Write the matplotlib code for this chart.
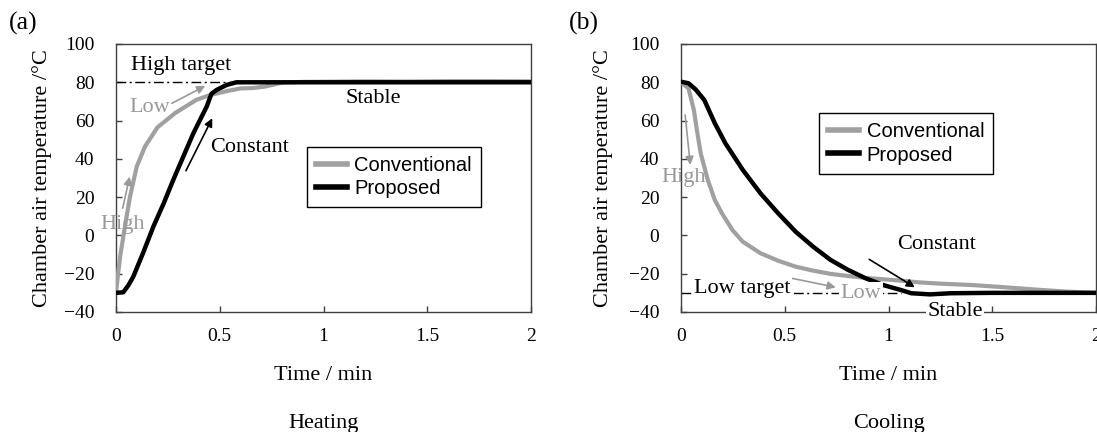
import matplotlib
matplotlib.use("Agg")
import matplotlib.pyplot as plt

# ---------------- data ----------------
heat_t_conv = [0, 0.01, 0.02, 0.043, 0.067, 0.1, 0.14, 0.2, 0.286, 0.387, 0.455, 0.54,
               0.6, 0.66, 0.72, 0.8, 0.9, 1.0, 1.2, 1.4, 1.6, 1.8, 2.0]
heat_conv = [-30, -20, -11, 4.6, 20, 36, 46.5, 56.5, 64, 70.8, 73.4, 75.5,
             76.8, 77.0, 77.8, 79.8, 80.2, 80.3, 80.5, 80.4, 80.6, 80.6, 80.5]

heat_t_prop = [0, 0.035, 0.06, 0.083, 0.13, 0.18, 0.23, 0.276, 0.324, 0.373, 0.437,
               0.46, 0.485, 0.533, 0.58, 0.7, 1.0, 1.5, 2.0]
heat_prop = [-30, -29.7, -26, -21.6, -9.3, 4.6, 16.8, 29, 41.1, 53.4, 67.3,
             74, 76, 78.6, 80, 80, 80, 80, 80]

cool_t_conv = [0, 0.036, 0.062, 0.079, 0.095, 0.129, 0.163, 0.197, 0.248, 0.298, 0.383,
               0.468, 0.552, 0.637, 0.721, 0.805, 0.89, 0.974, 1.059, 1.144, 1.25, 1.4,
               1.55, 1.7, 1.85, 2.0]
cool_conv = [80, 76.9, 65.5, 53.4, 42.9, 29, 18.5, 11.6, 2.8, -3.3, -9.3,
             -13.2, -16.3, -18.4, -20.1, -21.2, -22.2, -22.9, -23.6, -24.5, -25.2, -25.9,
             -27.0, -28.2, -29.3, -30]

cool_t_prop = [0, 0.036, 0.07, 0.112, 0.163, 0.214, 0.298, 0.383, 0.468, 0.552, 0.637,
               0.721, 0.805, 0.89, 0.974, 1.059, 1.11, 1.2, 1.3, 1.5, 2.0]
cool_prop = [80.3, 79.5, 76.3, 70.8, 58.6, 48.1, 34.2, 22, 11.6, 2, -5.9,
             -12.8, -18, -22.4, -25.9, -28.5, -30.2, -30.8, -30.2, -30, -30]

high_target = 80
low_target = -30
series_labels = ["Conventional", "Proposed"]
x_ticks = [0, 0.5, 1, 1.5, 2]
x_tick_labels = ["0", "0.5", "1", "1.5", "2"]
y_ticks = [-40, -20, 0, 20, 40, 60, 80, 100]
y_tick_labels = ["\u221240", "\u221220", "0", "20", "40", "60", "80", "100"]

# ---------------- style ----------------
SERIF = ["Liberation Serif", "DejaVu Serif"]
SANS = ["Liberation Sans", "DejaVu Sans"]
plt.rcParams["font.family"] = SERIF
GRAY = "#a0a0a0"
TGRAY = "#999999"
SPINE = "#404040"
TICK_FS = 14
LAB_FS = 16
ANN_FS = 16

fig = plt.figure(figsize=(10.97, 4.32), dpi=100)
axL = fig.add_axes([116 / 1097, 120 / 432, 415 / 1097, 268 / 432])
axR = fig.add_axes([681 / 1097, 120 / 432, 415 / 1097, 268 / 432])


def style_axes(ax, ylab_x):
    ax.set_xlim(0, 2)
    ax.set_ylim(-40, 100)
    ax.set_xticks(x_ticks)
    ax.set_xticklabels(x_tick_labels)
    ax.set_yticks(y_ticks)
    ax.set_yticklabels(y_tick_labels)
    for s in ax.spines.values():
        s.set_color(SPINE)
        s.set_linewidth(1.0)
    ax.tick_params(axis="both", direction="in", length=4, width=1, color=SPINE,
                   labelsize=TICK_FS)
    ax.tick_params(axis="y", pad=15.5)
    ax.tick_params(axis="x", pad=11.5)
    ax.set_xlabel("Time / min", fontsize=LAB_FS)
    ax.set_ylabel("Chamber air temperature /\u00b0C", fontsize=LAB_FS)
    ax.yaxis.set_label_coords(ylab_x, 0.5)
    ax.xaxis.set_label_coords(0.5, -0.2)


style_axes(axL, -0.154)
style_axes(axR, -0.164)

dashdot = (0, (7, 2.5, 1.5, 2.5))

# ---- heating ----
axL.plot([0, 0.56], [high_target, high_target], color="black", lw=1.0,
         linestyle=dashdot, zorder=2)
axL.plot(heat_t_conv, heat_conv, color=GRAY, lw=3.0, label=series_labels[0], zorder=3,
         solid_joinstyle="round")
axL.plot(heat_t_prop, heat_prop, color="black", lw=3.2, label=series_labels[1], zorder=4,
         solid_joinstyle="round")

arrow_g = dict(arrowstyle="-|>", color=TGRAY, lw=1.2, mutation_scale=12,
               shrinkA=0, shrinkB=0)
arrow_k = dict(arrowstyle="-|>", color="black", lw=1.2, mutation_scale=12,
               shrinkA=0, shrinkB=0)

axL.text(0.316, 88.7, "High target", fontsize=ANN_FS, ha="center", va="center")
axL.text(0.165, 67.0, "Low", fontsize=ANN_FS, ha="center", va="center", color=TGRAY)
axL.annotate("", xy=(0.43, 78.1), xytext=(0.269, 69), arrowprops=arrow_g)
axL.text(0.643, 45.8, "Constant", fontsize=ANN_FS, ha="center", va="center")
axL.annotate("", xy=(0.464, 61.2), xytext=(0.337, 33.8), arrowprops=arrow_k)
axL.text(0.033, 5.5, "High", fontsize=ANN_FS, ha="center", va="center", color=TGRAY)
axL.annotate("", xy=(0.066, 30.7), xytext=(0.032, 14.2), arrowprops=arrow_g)
axL.text(1.241, 71.3, "Stable", fontsize=ANN_FS, ha="center", va="center")

legL = axL.legend(loc="upper left", bbox_to_anchor=(0.46, 0.617),
                  prop={"family": SANS, "size": 14.5}, frameon=True, fancybox=False,
                  framealpha=1, edgecolor="black", borderpad=0.45, labelspacing=0.2,
                  handlelength=1.55, handletextpad=0.35, borderaxespad=0)
legL.get_frame().set_linewidth(1.0)
for ln in legL.get_lines():
    ln.set_linewidth(4)

# ---- cooling ----
axR.plot([0, 1.06], [low_target, low_target], color="black", lw=1.0,
         linestyle=dashdot, zorder=2)
axR.plot(cool_t_conv, cool_conv, color=GRAY, lw=3.0, label=series_labels[0], zorder=3,
         solid_joinstyle="round")
axR.plot(cool_t_prop, cool_prop, color="black", lw=3.2, label=series_labels[1], zorder=4,
         solid_joinstyle="round")

axR.text(0.014, 30.5, "High", fontsize=ANN_FS, ha="center", va="center", color=TGRAY)
axR.annotate("", xy=(0.045, 36.8), xytext=(0.02, 62.9), arrowprops=arrow_g)
axR.text(1.231, -4.6, "Constant", fontsize=ANN_FS, ha="center", va="center")
axR.annotate("", xy=(1.127, -27.1), xytext=(0.907, -12.5), arrowprops=arrow_k)
axR.text(0.294, -27.6, "Low target", fontsize=ANN_FS, ha="center", va="center",
         bbox=dict(facecolor="white", edgecolor="none", pad=1.0), zorder=5)
axR.annotate("", xy=(0.746, -27.1), xytext=(0.535, -22.4), arrowprops=arrow_g)
axR.text(0.868, -30.2, "Low", fontsize=ANN_FS, ha="center", va="center", color=TGRAY,
         bbox=dict(facecolor="white", edgecolor="none", pad=1.0), zorder=5)
axR.text(1.32, -39.8, "Stable", fontsize=ANN_FS, ha="center", va="center",
         bbox=dict(facecolor="white", edgecolor="none", pad=1.0), zorder=6, clip_on=False)

legR = axR.legend(loc="upper left", bbox_to_anchor=(0.333, 0.741),
                  prop={"family": SANS, "size": 14.5}, frameon=True, fancybox=False,
                  framealpha=1, edgecolor="black", borderpad=0.45, labelspacing=0.2,
                  handlelength=1.55, handletextpad=0.35, borderaxespad=0)
legR.get_frame().set_linewidth(1.0)
for ln in legR.get_lines():
    ln.set_linewidth(4)

# ---- figure texts ----
fig.text(9 / 1097, 1 - 23.3 / 432, "(a)", fontsize=18.5, ha="left", va="center")
fig.text(569 / 1097, 1 - 23.3 / 432, "(b)", fontsize=18.5, ha="left", va="center")
fig.text(323.5 / 1097, 4.4 / 432, "Heating", fontsize=LAB_FS, ha="center", va="baseline")
fig.text(888.5 / 1097, 4.4 / 432, "Cooling", fontsize=LAB_FS, ha="center", va="baseline")

fig.savefig("out.png", dpi=100)
